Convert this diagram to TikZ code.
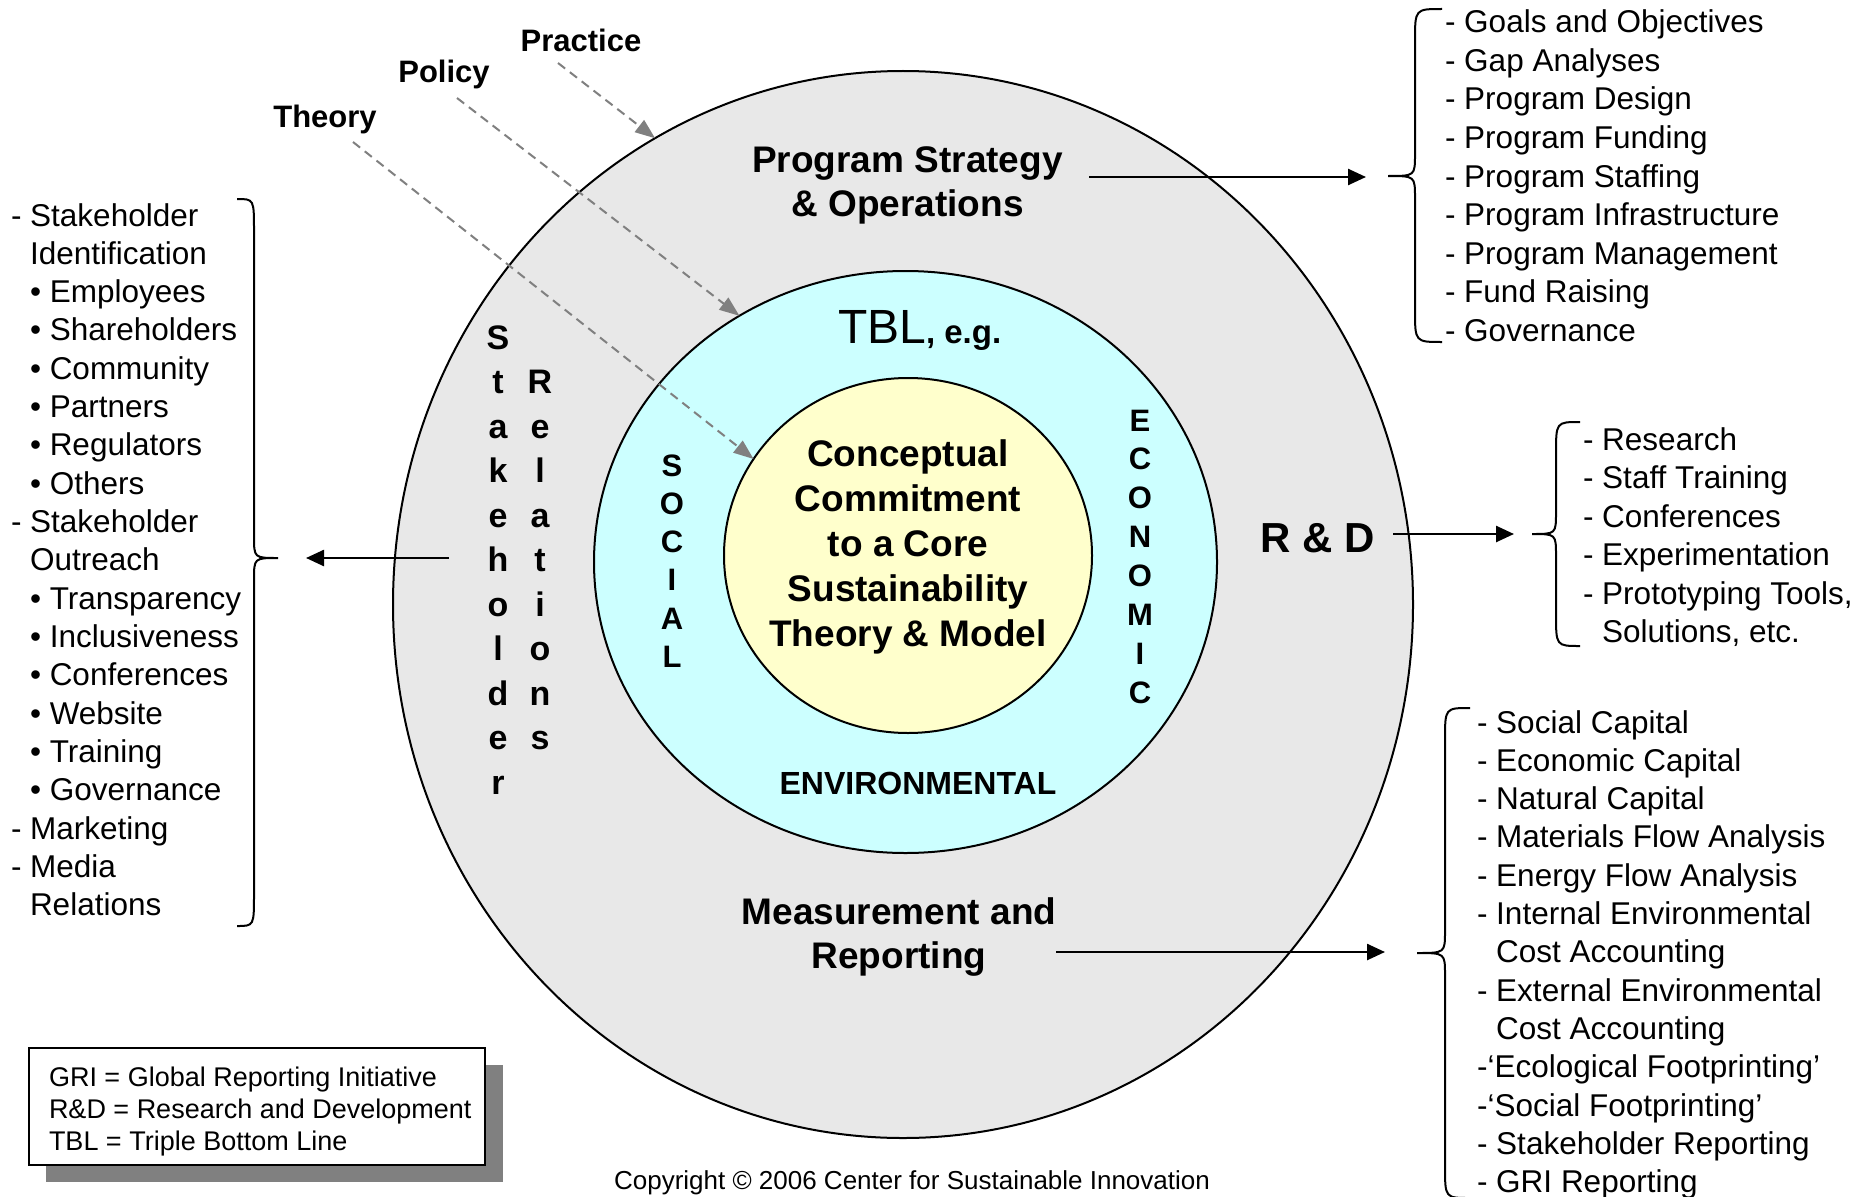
\documentclass[tikz,border=0pt]{standalone}
\usepackage{fontspec}
\setmainfont{Liberation Sans}
\usetikzlibrary{arrows.meta,shapes.geometric}
\definecolor{ringgray}{HTML}{E8E8E8}
\definecolor{tblcyan}{HTML}{CCFFFF}
\definecolor{coreyellow}{HTML}{FFFFCC}
\definecolor{dashgray}{HTML}{808080}
\newcommand\fMain{\bfseries\fontsize{37}{44.8}\selectfont}
\newcommand\fList{\fontsize{31.5}{38.5}\selectfont}
\newcommand\fVert{\bfseries\fontsize{34}{44.5}\selectfont}
\newcommand\fTbl{\bfseries\fontsize{31}{38}\selectfont}
\newcommand\fSmall{\fontsize{27}{27}\selectfont}
\newcommand\fTop{\bfseries\fontsize{31}{36}\selectfont}
% brace: xe xs xt ytop ymid ybot
\newcommand\mybrace[6]{%
  \draw[bracestyle] (#1,#4) .. controls (#2,#4) .. (#2,#4+32) -- (#2,#5-22)
    .. controls (#2,#5) .. (#3,#5) .. controls (#2,#5) .. (#2,#5+22)
    -- (#2,#6-32) .. controls (#2,#6) .. (#1,#6);}
\begin{document}
\begin{tikzpicture}[x=1pt,y=-1pt,
  every node/.style={inner sep=0pt, outer sep=0pt},
  ring/.style={ellipse, draw=black, line width=2pt, inner sep=0pt},
  mainlbl/.style={font=\fMain, align=center},
  listitem/.style={font=\fList, anchor=base west},
  vlet/.style={font=\fVert, anchor=base},
  tblet/.style={font=\fTbl, anchor=base},
  toplbl/.style={font=\fTop, anchor=base},
  arr/.style={line width=2.5pt, -{Triangle[length=18pt,width=16pt]}},
  dasharr/.style={draw=dashgray, line width=2pt, dash pattern=on 9pt off 6pt,
                  -{Triangle[length=20pt,width=15pt,fill=dashgray]}},
  bracestyle/.style={line width=2pt}]

\useasboundingbox (0,0) rectangle (1862,1196);
\fill[white] (0,0) rectangle (1862,1196);

% rings
\node[ring, fill=ringgray, minimum width=1020, minimum height=1067] (outer) at (903,604.5) {};
\node[ring, fill=tblcyan, minimum width=623, minimum height=582] (tbl) at (905.5,562) {};
\node[ring, fill=coreyellow, minimum width=368, minimum height=355] (core) at (908,555.5) {};

% core text
\node[mainlbl] (coretext) at (908,547.6) {\strut Conceptual\\Commitment\\to a Core\\Sustainability\\Theory \& Model\strut};

% ring labels
\node[mainlbl] (ps) at (907.5,185.5) {\strut Program Strategy\\\& Operations\strut};
\node[mainlbl] (mr) at (899,937.5) {\strut Measurement and\\Reporting\strut};
\node[font=\bfseries\fontsize{42}{46}\selectfont, anchor=base] (rd) at (1318,552) {R \& D};
\node[anchor=base west] (tbltitle) at (838,343) {{\fontsize{48}{50}\selectfont TBL}{\bfseries\fontsize{33}{35}\selectfont, e.g.}};
\node[font=\bfseries\fontsize{32}{36}\selectfont, anchor=base] (env) at (918,794) {ENVIRONMENTAL};

\foreach \c [count=\i from 0] in {S,O,C,I,A,L}
  \node[tblet] (soc\i) at (672,476+38.3*\i) {\c};
\foreach \c [count=\i from 0] in {E,C,O,N,O,M,I,C}
  \node[tblet] (eco\i) at (1140,431+38.9*\i) {\c};

\foreach \c [count=\i from 0] in {S,t,a,k,e,h,o,l,d,e,r}
  \node[vlet] (stk\i) at (498,349+44.5*\i) {\c};
\foreach \c [count=\i from 1] in {R,e,l,a,t,i,o,n,s}
  \node[vlet] (rel\i) at (540,349+44.5*\i) {\c};

% Practice / Policy / Theory
\node[toplbl] (practice) at (581,52) {Practice};
\node[toplbl] (policy) at (444,83) {Policy};
\node[toplbl] (theory) at (325,128) {Theory};
\coordinate (prS) at (558,63);
\coordinate (poS) at (457,98);
\coordinate (thS) at (353,142);
\draw[dasharr] (prS) -- (outer.118.6);
\draw[dasharr] (poS) -- (tbl.124.9);
\draw[dasharr] (thS) -- (core.148.8);

% arrows to lists
\coordinate (psA) at (1089,177); \coordinate (psB) at (1366,177);
\coordinate (rdA) at (1393,534); \coordinate (rdB) at (1514,534);
\coordinate (mrA) at (1056,952); \coordinate (mrB) at (1385,952);
\coordinate (srA) at (449,558);  \coordinate (srB) at (306,558);
\draw[arr] (psA) -- (psB);
\draw[arr] (rdA) -- (rdB);
\draw[arr] (mrA) -- (mrB);
\draw[arr] (srA) -- (srB);

% braces
\mybrace{1442}{1415}{1388}{9}{176}{342}
\mybrace{1580}{1556}{1532}{422}{534}{646}
\mybrace{1470}{1445}{1417}{708}{953}{1198}
\mybrace{237}{254}{278}{199}{558}{926}

% lists
\foreach \itm [count=\i from 0] in {- Goals and Objectives, - Gap Analyses, - Program Design,
  - Program Funding, - Program Staffing, - Program Infrastructure, - Program Management,
  - Fund Raising, - Governance}
  \node[listitem] (pl\i) at (1445,33+38.5*\i) {\itm};

\foreach \xx/\itm [count=\i from 0] in {1583/- Research, 1583/- Staff Training,
  1583/- Conferences, 1583/- Experimentation, 1583/{- Prototyping Tools,},
  1602/{Solutions, etc.}}
  \node[listitem] (rl\i) at (\xx,450+38.5*\i) {\itm};

\foreach \xx/\itm [count=\i from 0] in {1477/- Social Capital, 1477/- Economic Capital,
  1477/- Natural Capital, 1477/- Materials Flow Analysis, 1477/- Energy Flow Analysis,
  1477/- Internal Environmental, 1496/Cost Accounting, 1477/- External Environmental,
  1496/Cost Accounting, 1477/-‘Ecological Footprinting’, 1477/-‘Social Footprinting’,
  1477/- Stakeholder Reporting, 1477/- GRI Reporting}
  \node[listitem] (ml\i) at (\xx,733+38.3*\i) {\itm};

\foreach \xx/\itm [count=\i from 0] in {11/- Stakeholder, 30/Identification,
  30/• Employees, 30/• Shareholders, 30/• Community, 30/• Partners, 30/• Regulators,
  30/• Others, 11/- Stakeholder, 30/Outreach, 30/• Transparency, 30/• Inclusiveness,
  30/• Conferences, 30/• Website, 30/• Training, 30/• Governance, 11/- Marketing,
  11/- Media, 30/Relations}
  \node[listitem] (sl\i) at (\xx,226+38.33*\i) {\itm};

% legend
\fill[dashgray] (46,1065) rectangle (503,1182);
\node[draw=black, line width=2.5pt, fill=white, minimum width=456, minimum height=117,
      anchor=north west] (legend) at (29,1048) {};
\node[font=\fSmall, anchor=base west] (lg1) at (49,1086) {GRI = Global Reporting Initiative};
\node[font=\fSmall, anchor=base west] (lg2) at (49,1118) {R\&D = Research and Development};
\node[font=\fSmall, anchor=base west] (lg3) at (49,1150) {TBL = Triple Bottom Line};

% copyright
\node[font=\fontsize{26}{28}\selectfont, anchor=base] (copy) at (912,1189) {Copyright © 2006 Center for Sustainable Innovation};
\end{tikzpicture}
\end{document}
